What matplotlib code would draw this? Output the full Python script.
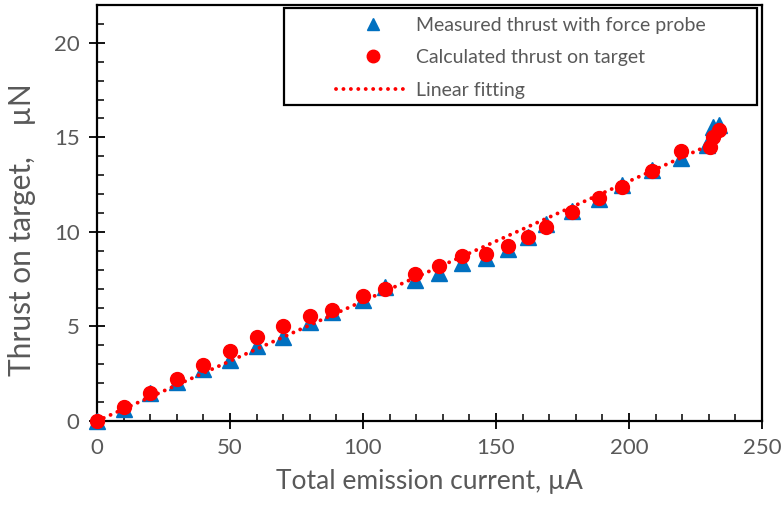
import numpy as np
import matplotlib
matplotlib.use("Agg")
import matplotlib.pyplot as plt
from matplotlib.patches import Rectangle
from matplotlib.ticker import MultipleLocator

plt.rcParams['font.family'] = ['Lato', 'DejaVu Sans']

# measured thrust (force probe)
meas_x = [0, 10, 20, 30, 40, 50, 60, 70, 80, 88.5, 100, 108.3, 119.5, 128.7, 137.3,
          146.2, 154.6, 161.9, 168.8, 178.7, 188.8, 197.2, 208.5, 219.5, 229.5, 231.5, 233.9]
meas_y = [0, 0.66, 1.5, 2.08, 2.73, 3.22, 3.94, 4.43, 5.21, 5.74, 6.38, 7.1, 7.47, 7.82, 8.34,
          8.6, 9.11, 9.72, 10.4, 11.1, 11.75, 12.5, 13.3, 13.93, 14.6, 15.55, 15.68]

# calculated thrust on target
calc_x = [0, 10, 20, 30, 40, 50, 60, 70, 80, 88.5, 100, 108.3, 119.5, 128.7, 137.3,
          146.2, 154.6, 161.9, 168.8, 178.7, 188.8, 197.2, 208.5, 219.5, 230.6, 231.5, 233.7]
calc_y = [0, 0.73, 1.5, 2.23, 2.97, 3.71, 4.42, 5.04, 5.57, 5.89, 6.63, 7.0, 7.75, 8.22, 8.7,
          8.84, 9.25, 9.73, 10.27, 11.07, 11.8, 12.38, 13.23, 14.29, 14.5, 15.0, 15.4]

# linear fit y = a*x + b
fit_a, fit_b = 0.0634, 0.0
fit_range = [0, 233]

grey = '#595959'

fig = plt.figure(figsize=(7.84, 5.12), dpi=100)
ax = fig.add_axes([97 / 784, 91 / 512, 665 / 784, 416 / 512])

ax.plot(meas_x, meas_y, '^', color='#0070C0', ms=11, mec='#0070C0', zorder=3,
        clip_on=False, label='Measured thrust with force probe')
ax.plot(calc_x, calc_y, 'o', color='#FF0000', ms=10, mec='#FF0000', zorder=4,
        clip_on=False, label='Calculated thrust on target')
fx = np.linspace(fit_range[0], fit_range[1], 200)
ax.plot(fx, fit_a * fx + fit_b, color='#FF0000', lw=2.8, linestyle=(0, (0.01, 1.9)),
        dash_capstyle='round', zorder=5, label='Linear fitting')

ax.set_xlim(0, 250)
ax.set_ylim(0, 22)
ax.xaxis.set_major_locator(MultipleLocator(50))
ax.xaxis.set_minor_locator(MultipleLocator(10))
ax.yaxis.set_minor_locator(MultipleLocator(1))
ax.set_yticks([0, 5, 10, 15, 20])

for s in ax.spines.values():
    s.set_linewidth(1.6)
    s.set_color('black')
ax.tick_params(which='major', direction='inout', length=11, width=1.3,
               labelsize=16, labelcolor=grey, pad=7)
ax.tick_params(which='minor', direction='in', length=5, width=1.1)
ax.tick_params(axis='y', which='both', right=False)
ax.tick_params(axis='x', which='both', top=False)

ax.set_xlabel('Total emission current, µA', fontsize=19, color=grey, labelpad=8)
ax.set_ylabel('Thrust on target,    µN', fontsize=21.5, color=grey)
ax.yaxis.set_label_coords(-0.092, 0.459)

leg = fig.legend(loc='upper left', bbox_to_anchor=(326 / 784, 1 - 7 / 512),
                 frameon=False, fontsize=14, handlelength=3.8, handletextpad=0.35,
                 labelspacing=0.8, borderpad=0.0, numpoints=1)
for t in leg.get_texts():
    t.set_color(grey)
for h in leg.legend_handles[:2]:
    h.set_markersize(9)

fig.add_artist(Rectangle((284 / 784, 1 - 105 / 512), 473 / 784, 97 / 512,
                         transform=fig.transFigure, fill=False, ec='black', lw=1.6))

fig.savefig('out.png', dpi=100)
